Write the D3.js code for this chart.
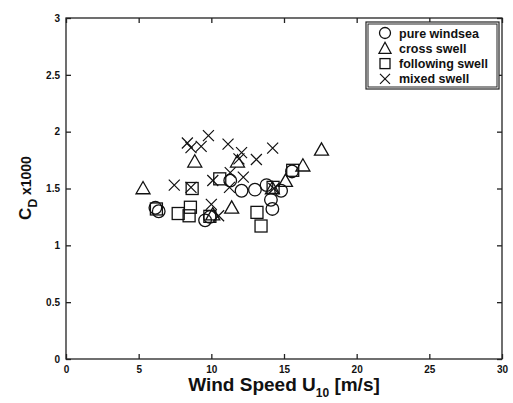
<!DOCTYPE html>
<html><head><meta charset="utf-8">
<script src="https://cdn.jsdelivr.net/npm/d3@7"></script>
<style>body{margin:0;background:#fff}svg{display:block}</style>
</head><body>
<svg id="c" width="513" height="403"></svg>
<script>
const xTicks = [0,5,10,15,20,25,30];
const yTicks = [0,0.5,1,1.5,2,2.5,3];
const yTickLabels = ["0","0.5","1","1.5","2","2.5","3"];
const seriesNames = ["pure windsea","cross swell","following swell","mixed swell"];
const pureWindsea = [[6.15,1.33],[6.38,1.30],[9.57,1.22],[9.9,1.25],[11.3,1.57],[12.08,1.48],[13.0,1.49],[13.8,1.53],[14.1,1.40],[14.2,1.32],[14.8,1.48],[15.55,1.65]];
const crossSwell = [[5.3,1.50],[8.86,1.735],[10.1,1.27],[11.4,1.33],[11.8,1.735],[14.2,1.50],[15.1,1.565],[16.3,1.70],[17.58,1.84]];
const followingSwell = [[6.22,1.32],[7.72,1.28],[8.56,1.335],[8.47,1.26],[8.68,1.50],[9.9,1.255],[10.58,1.585],[13.14,1.29],[13.42,1.17],[14.25,1.51],[15.6,1.66]];
const mixedSwell = [[8.35,1.90],[8.6,1.86],[9.3,1.87],[9.8,1.965],[11.15,1.89],[11.9,1.76],[12.08,1.815],[13.1,1.755],[14.22,1.855],[7.45,1.53],[8.6,1.51],[10.1,1.57],[10.0,1.36],[10.5,1.26],[11.25,1.51],[11.3,1.64],[12.2,1.60],[14.3,1.50]];

const svg = d3.select("#c");
const x = d3.scaleLinear().domain([0,30]).range([66,502]);
const y = d3.scaleLinear().domain([0,3]).range([359,18]);
const font = "Liberation Sans, Arial, sans-serif";

svg.append("rect").attr("x",66).attr("y",18).attr("width",436).attr("height",341)
  .attr("fill","none").attr("stroke","#222").attr("stroke-width",1.3);

const ax = svg.append("g").attr("transform","translate(0,359)")
  .call(d3.axisBottom(x).tickValues(xTicks).tickSize(-5).tickPadding(7).tickFormat(d3.format("d")));
const axT = svg.append("g").attr("transform","translate(0,18)")
  .call(d3.axisTop(x).tickValues(xTicks).tickSize(-5).tickFormat(""));
const ay = svg.append("g").attr("transform","translate(66,0)")
  .call(d3.axisLeft(y).tickValues(yTicks).tickSize(-5).tickPadding(6).tickFormat((d,i)=>yTickLabels[i]));
const ayR = svg.append("g").attr("transform","translate(502,0)")
  .call(d3.axisRight(y).tickValues(yTicks).tickSize(-5).tickFormat(""));
[ax,axT,ay,ayR].forEach(g=>{
  g.select(".domain").remove();
  g.selectAll("line").attr("stroke","#222").attr("stroke-width",1.3);
  g.selectAll("text").attr("font-family",font).attr("font-weight","bold").attr("font-size",10).attr("fill","#111");
});

const col = "#111";
const sw = 1.3;
function circle(g,cx,cy){g.append("circle").attr("cx",cx).attr("cy",cy).attr("r",6.3).attr("fill","none").attr("stroke",col).attr("stroke-width",sw);}
function tri(g,cx,cy){const s=7;g.append("path").attr("d",`M${cx},${cy-s}L${cx+s},${cy+s*0.75}L${cx-s},${cy+s*0.75}Z`).attr("fill","none").attr("stroke",col).attr("stroke-width",sw);}
function sq(g,cx,cy){const s=6;g.append("rect").attr("x",cx-s).attr("y",cy-s).attr("width",2*s).attr("height",2*s).attr("fill","none").attr("stroke",col).attr("stroke-width",sw);}
function cross(g,cx,cy){const s=5.5;g.append("path").attr("d",`M${cx-s},${cy-s}L${cx+s},${cy+s}M${cx-s},${cy+s}L${cx+s},${cy-s}`).attr("fill","none").attr("stroke",col).attr("stroke-width",1.2);}

const pts = svg.append("g");
pureWindsea.forEach(d=>circle(pts,x(d[0]),y(d[1])));
crossSwell.forEach(d=>tri(pts,x(d[0]),y(d[1])));
followingSwell.forEach(d=>sq(pts,x(d[0]),y(d[1])));
mixedSwell.forEach(d=>cross(pts,x(d[0]),y(d[1])));

const lg = svg.append("g");
lg.append("rect").attr("x",366).attr("y",22).attr("width",133).attr("height",67).attr("fill","#fff").attr("stroke","#222").attr("stroke-width",1.2);
lg.append("rect").attr("x",368).attr("y",24).attr("width",129).attr("height",63).attr("fill","none").attr("stroke","#222").attr("stroke-width",1);
seriesNames.forEach((n,i)=>{
  const yy = 33 + i*15.3;
  if(i===0){lg.append("circle").attr("cx",385).attr("cy",yy).attr("r",5.5).attr("fill","none").attr("stroke",col).attr("stroke-width",sw);}
  else if(i===1){lg.append("path").attr("d",`M385,${yy-6}L391,${yy+5}L379,${yy+5}Z`).attr("fill","none").attr("stroke",col).attr("stroke-width",sw);}
  else if(i===2){lg.append("rect").attr("x",380).attr("y",yy-5).attr("width",10).attr("height",10).attr("fill","none").attr("stroke",col).attr("stroke-width",sw);}
  else {lg.append("path").attr("d",`M380,${yy-5}L390,${yy+5}M380,${yy+5}L390,${yy-5}`).attr("fill","none").attr("stroke",col).attr("stroke-width",1.2);}
  lg.append("text").attr("x",399).attr("y",yy+4.5).text(n).attr("font-family",font).attr("font-weight","bold").attr("font-size",12.5).attr("fill","#111");
});

const xl = svg.append("text").attr("x",284).attr("y",391).attr("text-anchor","middle")
  .attr("font-family",font).attr("font-weight","bold").attr("font-size",19).attr("fill","#111");
xl.append("tspan").text("Wind Speed U");
xl.append("tspan").text("10").attr("font-size",12).attr("dy",6);
xl.append("tspan").text(" [m/s]").attr("dy",-6);

const yl = svg.append("text").attr("transform","translate(31,188) rotate(-90)").attr("text-anchor","middle")
  .attr("font-family",font).attr("font-weight","bold").attr("font-size",17).attr("fill","#111");
yl.append("tspan").text("C");
yl.append("tspan").text("D").attr("font-size",12).attr("dy",6);
yl.append("tspan").text(" x1000").attr("font-size",14).attr("dy",-6);
</script>
</body></html>
